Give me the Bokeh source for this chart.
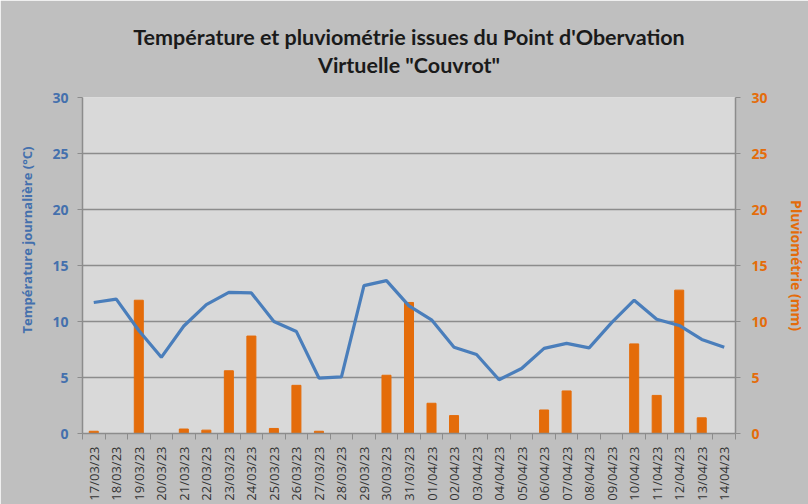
from bokeh.plotting import figure
from bokeh.models import LinearAxis, Range1d, FixedTicker, ColumnDataSource, Title
from bokeh.embed import file_html
from bokeh.resources import INLINE

dates = ["17/03/23", "18/03/23", "19/03/23", "20/03/23", "21/03/23", "22/03/23",
         "23/03/23", "24/03/23", "25/03/23", "26/03/23", "27/03/23", "28/03/23",
         "29/03/23", "30/03/23", "31/03/23", "01/04/23", "02/04/23", "03/04/23",
         "04/04/23", "05/04/23", "06/04/23", "07/04/23", "08/04/23", "09/04/23",
         "10/04/23", "11/04/23", "12/04/23", "13/04/23", "14/04/23"]
temperature = [11.7, 12.0, 9.2, 6.8, 9.6, 11.5, 12.6, 12.55, 10.0, 9.1, 4.95, 5.05,
               13.2, 13.65, 11.4, 10.15, 7.7, 7.05, 4.8, 5.8, 7.6, 8.05, 7.65, 9.9,
               11.9, 10.2, 9.65, 8.4, 7.7]
rain = [0.2, 0.0, 11.9, 0.0, 0.4, 0.3, 5.6, 8.7, 0.45, 4.3, 0.2, 0.0, 0.0, 5.2,
        11.7, 2.7, 1.6, 0.0, 0.0, 0.0, 2.1, 3.8, 0.0, 0.0, 8.0, 3.4, 12.8, 1.4, 0.0]
y_ticks = [0, 5, 10, 15, 20, 25, 30]
title_lines = ["Température et pluviométrie issues du Point d'Obervation",
               "Virtuelle \"Couvrot\""]
left_label = "Température journalière (°C)"
right_label = "Pluviométrie (mm)"

BLUE = "#4a7ebb"
BLUE_TXT = "#4470ad"
ORANGE = "#e46c0a"
GRID = "#8c8c8c"

idx = list(range(len(dates)))
src = ColumnDataSource(dict(x=idx, temp=temperature, rain=rain))

p = figure(width=808, height=504, output_backend="svg", toolbar_location=None,
           x_range=Range1d(-0.5, len(dates) - 0.5), y_range=Range1d(0, 30),
           min_border_left=82, min_border_right=63, min_border_top=97,
           min_border_bottom=71)
p.extra_y_ranges = {"rain": Range1d(0, 30)}

p.background_fill_color = "#d9d9d9"
p.border_fill_color = "#bfbfbf"
p.outline_line_color = None
p.xgrid.grid_line_color = None
p.ygrid.grid_line_color = GRID
p.ygrid.grid_line_width = 1.5
p.ygrid.ticker = FixedTicker(ticks=y_ticks)

p.title.text = title_lines[0]
p.title.align = "center"
p.title.text_font = "Lato"
p.title.text_font_size = "21.5px"
p.title.text_font_style = "bold"
p.title.text_color = "#1a1a1a"
p.title.standoff = -40
p.add_layout(Title(text=title_lines[1], align="center", text_font="Lato",
                   text_font_size="21.5px", text_font_style="bold",
                   text_color="#1a1a1a", standoff=40), "above")

p.vbar(x="x", top="rain", width=0.4, color=ORANGE, source=src, y_range_name="rain")
p.line(x="x", y="temp", line_color=BLUE, line_width=3.2, source=src)

# x axis
xa = p.xaxis[0]
xa.ticker = FixedTicker(ticks=idx, minor_ticks=[i - 0.5 for i in range(len(dates) + 1)])
xa.major_label_overrides = {i: d for i, d in enumerate(dates)}
xa.major_label_orientation = 1.5708
xa.major_tick_out = 0
xa.major_tick_in = 0
xa.minor_tick_out = 6
xa.minor_tick_in = 0
xa.minor_tick_line_color = GRID
xa.axis_line_color = GRID
xa.axis_line_width = 1.5
xa.major_label_text_font = "Open Sans"
xa.major_label_text_font_size = "13px"
xa.major_label_text_color = "#333333"
xa.major_label_standoff = 7

# left axis
ya = p.yaxis[0]
ya.ticker = FixedTicker(ticks=y_ticks)
ya.major_label_text_color = BLUE_TXT
ya.major_label_text_font = "Open Sans"
ya.major_label_text_font_size = "14px"
ya.major_label_text_font_style = "bold"
ya.axis_line_color = GRID
ya.axis_line_width = 1.5
ya.major_tick_line_color = GRID
ya.major_tick_out = 5
ya.major_tick_in = 0
ya.minor_tick_line_color = None
ya.major_label_standoff = 9

# left axis title, set above centre as in the original
p.add_layout(Title(text=left_label, align="left", offset=100, standoff=27,
                   text_color=BLUE_TXT, text_font="Open Sans",
                   text_font_size="13px", text_font_style="bold"), "left")

# right axis
ra = LinearAxis(y_range_name="rain", ticker=FixedTicker(ticks=y_ticks))
ra.axis_label = right_label
ra.axis_label_text_color = ORANGE
ra.axis_label_text_font = "Open Sans"
ra.axis_label_text_font_size = "14px"
ra.axis_label_text_font_style = "bold"
ra.axis_label_standoff = 16
ra.major_label_text_color = ORANGE
ra.major_label_text_font = "Open Sans"
ra.major_label_text_font_size = "14px"
ra.major_label_text_font_style = "bold"
ra.axis_line_color = GRID
ra.axis_line_width = 1.5
ra.major_tick_line_color = GRID
ra.major_tick_out = 5
ra.major_tick_in = 0
ra.minor_tick_line_color = None
ra.major_label_standoff = 11
p.add_layout(ra, "right")

open("out.html", "w").write(file_html(p, INLINE))
